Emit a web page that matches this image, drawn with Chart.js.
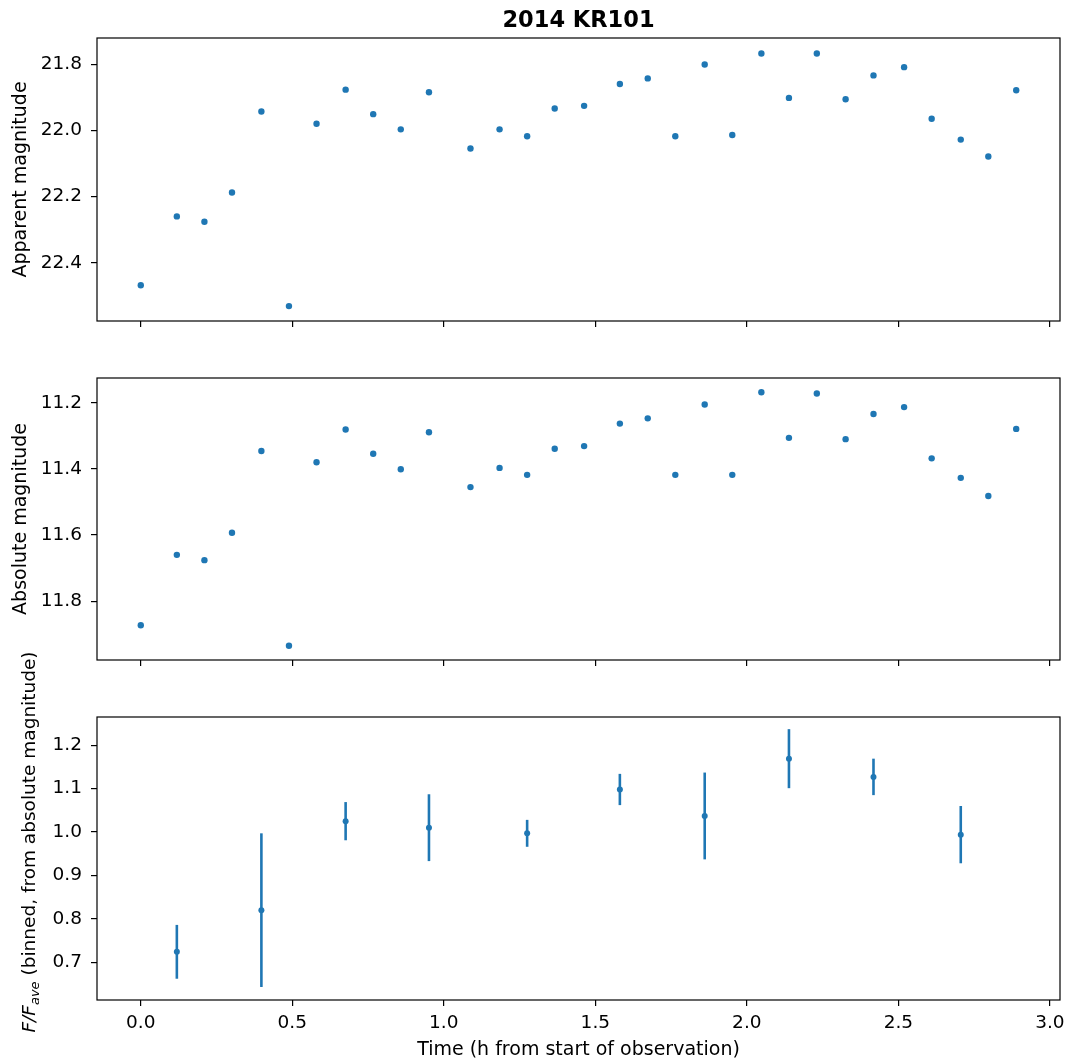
<!DOCTYPE html>
<html>
<head>
<meta charset="utf-8">
<title>2014 KR101</title>
<script src="https://cdn.jsdelivr.net/npm/chart.js@4.4.1/dist/chart.umd.min.js"></script>
<style>
    body { margin: 0; background: #fff; }
    #fig { position: relative; width: 1067px; height: 1061px; }
    #fig canvas { position: absolute; left: 0; }
</style>
</head>
<body>
<div id="fig">
    <canvas id="appChart" style="top:0px" width="1067" height="345"></canvas>
    <canvas id="absChart" style="top:345px" width="1067" height="340"></canvas>
    <canvas id="fluxChart" style="top:640px" width="1067" height="421"></canvas>
</div>
<script>
// hours since start of observation
const timeH = [0.000, 0.119, 0.210, 0.301, 0.398, 0.489, 0.580, 0.676, 0.767, 0.858, 0.951,
    1.088, 1.184, 1.275, 1.366, 1.463, 1.581, 1.673, 1.764, 1.861, 1.952, 2.048, 2.139,
    2.231, 2.326, 2.418, 2.519, 2.610, 2.706, 2.797, 2.889];
const apparentMag = [22.468, 22.260, 22.276, 22.188, 21.943, 22.531, 21.980, 21.877, 21.951, 21.997, 21.885,
    22.055, 21.997, 22.018, 21.934, 21.926, 21.860, 21.843, 22.018, 21.801, 22.014, 21.768, 21.902,
    21.768, 21.906, 21.834, 21.809, 21.965, 22.028, 22.079, 21.879];
const absoluteMag = [11.873, 11.660, 11.676, 11.593, 11.346, 11.935, 11.380, 11.281, 11.354, 11.401, 11.289,
    11.455, 11.397, 11.418, 11.339, 11.331, 11.263, 11.247, 11.418, 11.205, 11.418, 11.168, 11.306,
    11.172, 11.310, 11.234, 11.213, 11.368, 11.427, 11.482, 11.279];

// binned relative flux with errors
const binTime = [0.119, 0.398, 0.676, 0.951, 1.275, 1.581, 1.861, 2.139, 2.418, 2.706];
const binFlux = [0.724, 0.820, 1.025, 1.010, 0.997, 1.098, 1.037, 1.169, 1.127, 0.994];
const binErr = [0.062, 0.177, 0.044, 0.077, 0.031, 0.036, 0.100, 0.068, 0.042, 0.066];

const xTicks = [0.0, 0.5, 1.0, 1.5, 2.0, 2.5, 3.0];
const appTicks = [21.8, 22.0, 22.2, 22.4];
const absTicks = [11.2, 11.4, 11.6, 11.8];
const fluxTicks = [0.7, 0.8, 0.9, 1.0, 1.1, 1.2];

const blue = '#1f77b4';
const FONT = 'DejaVu Sans';
const tickFont = { family: FONT, size: 18.5 };
const PLOT_LEFT = 97;

const gridOpts = { drawOnChartArea: false, drawTicks: true, tickLength: 6, color: '#000', lineWidth: 1.2 };

function xScale(showLabels, axisHeight) {
    return {
        type: 'linear', min: -0.1445, max: 3.0335,
        afterBuildTicks: a => { a.ticks = xTicks.map(v => ({ value: v })); },
        afterFit: a => { a.height = axisHeight; a.paddingLeft = 0; a.paddingRight = 0; },
        grid: gridOpts,
        border: { display: false },
        ticks: { display: showLabels, padding: 6, color: '#000', font: tickFont, maxRotation: 0, autoSkip: false,
            callback: v => v.toFixed(1) },
    };
}

function yScale(min, max, ticks, reverse) {
    return {
        type: 'linear', min: min, max: max, reverse: reverse,
        afterBuildTicks: a => { a.ticks = ticks.map(v => ({ value: v })); },
        afterFit: a => { a.width = PLOT_LEFT; a.paddingTop = 0; a.paddingBottom = 0; },
        grid: gridOpts,
        border: { display: false },
        ticks: { padding: 9, color: '#000', font: tickFont, autoSkip: false, callback: v => v.toFixed(1) },
    };
}

// axes box, title and axis labels
const decor = {
    id: 'decor',
    afterDraw(chart, args, opts) {
        const { ctx, chartArea: ca } = chart;
        ctx.save();
        ctx.strokeStyle = '#000';
        ctx.lineWidth = 1.2;
        ctx.strokeRect(ca.left, ca.top, ca.right - ca.left, ca.bottom - ca.top);
        ctx.fillStyle = '#000';
        const cx = (ca.left + ca.right) / 2;
        if (opts.title) {
            ctx.font = 'bold 22.5px ' + FONT;
            ctx.textAlign = 'center';
            ctx.textBaseline = 'alphabetic';
            ctx.fillText(opts.title, cx, opts.titleY);
        }
        if (opts.xlabel) {
            ctx.font = '19px ' + FONT;
            ctx.textAlign = 'center';
            ctx.textBaseline = 'alphabetic';
            ctx.fillText(opts.xlabel, cx, opts.xlabelY);
        }
        if (opts.ylabel) {
            const parts = opts.ylabel;
            let total = 0;
            parts.forEach(p => { ctx.font = p.font; p.w = ctx.measureText(p.text).width; total += p.w; });
            const cy = (ca.top + ca.bottom) / 2 + (opts.ylabelShift || 0);
            ctx.translate(opts.ylabelX, cy);
            ctx.rotate(-Math.PI / 2);
            ctx.textAlign = 'left';
            ctx.textBaseline = 'alphabetic';
            let pos = -total / 2;
            parts.forEach(p => { ctx.font = p.font; ctx.fillText(p.text, pos, p.dy || 0); pos += p.w; });
        }
        ctx.restore();
    }
};

// vertical error bars for the binned flux
const errorBars = {
    id: 'errorBars',
    beforeDatasetsDraw(chart) {
        const { ctx, scales } = chart;
        ctx.save();
        ctx.strokeStyle = blue;
        ctx.lineWidth = 2.6;
        binTime.forEach((t, i) => {
            const x = scales.x.getPixelForValue(t);
            ctx.beginPath();
            ctx.moveTo(x, scales.y.getPixelForValue(binFlux[i] - binErr[i]));
            ctx.lineTo(x, scales.y.getPixelForValue(binFlux[i] + binErr[i]));
            ctx.stroke();
        });
        ctx.restore();
    }
};

const labelFont = '19px ' + FONT;

function makeChart(id, points, radius, x, y, pad, decorOpts, extraPlugins) {
    return new Chart(document.getElementById(id), {
        type: 'scatter',
        data: {
            datasets: [{
                data: points,
                backgroundColor: blue,
                borderColor: blue,
                pointRadius: radius,
                pointBorderWidth: 0,
                pointHoverRadius: radius,
            }],
        },
        options: {
            responsive: false,
            animation: false,
            layout: { padding: pad },
            scales: { x: x, y: y },
            plugins: {
                legend: { display: false },
                tooltip: { enabled: false },
                decor: decorOpts,
            },
        },
        plugins: [decor].concat(extraPlugins || []),
    });
}

makeChart('appChart',
    timeH.map((t, i) => ({ x: t, y: apparentMag[i] })), 3.2,
    xScale(false, 24), yScale(21.721, 22.576, appTicks, true),
    { top: 38, right: 7, bottom: 0, left: 0 },
    { title: '2014 KR101', titleY: 26.7, ylabelX: 26, ylabel: [{ text: 'Apparent magnitude', font: labelFont }] });

makeChart('absChart',
    timeH.map((t, i) => ({ x: t, y: absoluteMag[i] })), 3.2,
    xScale(false, 25), yScale(11.125, 11.978, absTicks, true),
    { top: 33, right: 7, bottom: 0, left: 0 },
    { ylabelX: 26, ylabel: [{ text: 'Absolute magnitude', font: labelFont }] });

// flux panel canvas starts above its plot so the long y label fits
makeChart('fluxChart',
    binTime.map((t, i) => ({ x: t, y: binFlux[i] })), 3,
    xScale(true, 61), yScale(0.613, 1.265, fluxTicks, false),
    { top: 77, right: 7, bottom: 0, left: 0 },
    {
        xlabel: 'Time (h from start of observation)', xlabelY: 415,
        ylabelX: 35, ylabelShift: -16.5,
        ylabel: [
            { text: 'F/F', font: 'italic 18.5px ' + FONT },
            { text: 'ave', font: 'italic 13px ' + FONT, dy: 4 },
            { text: ' (binned, from absolute magnitude)', font: '18.5px ' + FONT },
        ],
    },
    [errorBars]);
</script>
</body>
</html>
